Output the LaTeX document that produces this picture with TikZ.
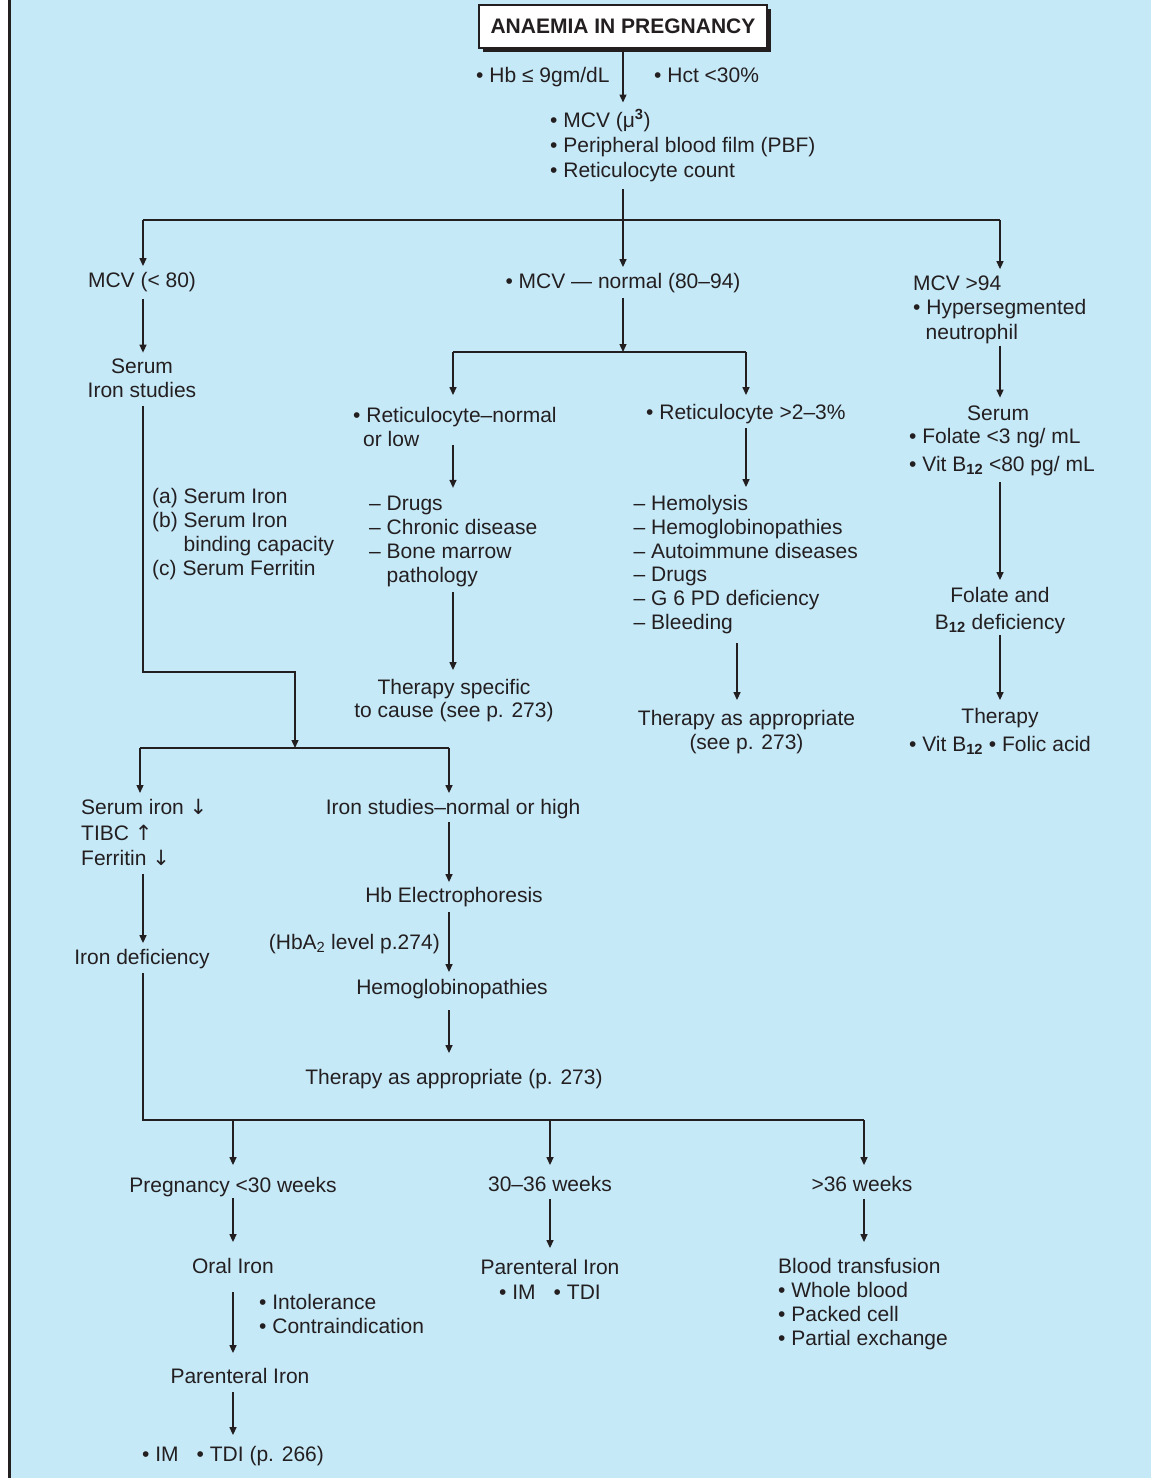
\documentclass[tikz,border=0pt]{standalone}
\usepackage{fontspec}
\setmainfont{Liberation Sans}
\newfontfamily\symf{DejaVu Sans}
\usetikzlibrary{arrows.meta,shadows}
\definecolor{bgblue}{RGB}{198,233,248}
\definecolor{ink}{RGB}{35,31,32}
\begin{document}
\begin{tikzpicture}[x=1pt,y=-1pt,
  every node/.style={font=\fontsize{21}{24}\selectfont, text=ink, inner sep=0pt},
  conn/.style={draw=ink, line width=1.3pt},
  arr/.style={conn, -{Triangle[length=8pt,width=7pt]}, shorten >=#1},
  arr/.default=6pt,
  titlebox/.style={draw=ink, line width=1.5pt, fill=white,
    font=\bfseries\fontsize{21}{24}\selectfont,
    minimum width=288pt, minimum height=43pt,
    general shadow={fill=ink, shadow xshift=4pt, shadow yshift=-4pt}},
  lst/.style={anchor=base west, align=left},
  ctr/.style={anchor=base, align=center}
]
\useasboundingbox (0,0) rectangle (1151,1478);
\fill[white] (0,0) rectangle (1151,1478);
\fill[bgblue] (11,0) rectangle (1151,1478);
\draw[ink, line width=3pt] (9.5,0) -- (9.5,1478);

% multi-line nodes are placed by the baseline of their LAST line
% ---------- top ----------
\node[titlebox] (title) at (623,26.5) {ANAEMIA IN PREGNANCY};
\node[anchor=base west] (hb) at (476,82.5) {• Hb ≤ 9gm/dL};
\node[anchor=base west] (hct) at (654,82.5) {• Hct <30\%};
\node[lst, font=\fontsize{21}{25}\selectfont] (inv) at (550,177.5)
  {• MCV (μ\textsuperscript{\textbf{3}})\\• Peripheral blood film (PBF)\\• Reticulocyte count};

\coordinate (sp1) at (623,220);
\coordinate (sp1l) at (143,220);
\coordinate (sp1r) at (1000,220);

\node[ctr] (mcvlow) at (142,287.5) {MCV (< 80)};
\node[ctr] (mcvnorm) at (623,288.5) {• MCV — normal (80–94)};
\node[lst, font=\fontsize{21}{24.5}\selectfont] (mcvhigh) at (913,339)
  {MCV >94\\• Hypersegmented\\\hspace{12.5pt}neutrophil};

% ---------- left branch ----------
\node[ctr] (seriron) at (142,397.5) {Serum\\Iron studies};
\node[lst] (ironlist) at (152,575)
  {(a) Serum Iron\\(b) Serum Iron\\\phantom{(b) }binding capacity\\(c) Serum Ferritin};
\coordinate (lc1) at (143,672);
\coordinate (lc2) at (295,672);
\coordinate (sp3) at (295,748);
\coordinate (sp3l) at (140,748);
\coordinate (sp3r) at (449,748);

\node[lst, font=\fontsize{21}{25.5}\selectfont] (serlow) at (81,865.5)
  {Serum iron {\symf ↓}\\TIBC {\symf ↑}\\Ferritin {\symf ↓}};
\node[ctr] (irondef) at (142,964.5) {Iron deficiency};

\node[ctr] (ironnorm) at (453,814.5) {Iron studies–normal or high};
\node[ctr] (hbel) at (454,902.5) {Hb Electrophoresis};
\node[anchor=base east] (hba) at (440,949.5) {(HbA\textsubscript{2} level p.274)};
\node[ctr] (hbpath) at (452,994.5) {Hemoglobinopathies};
\node[ctr] (ther3) at (454,1084.5) {Therapy as appropriate (p. 273)};

% ---------- middle branch ----------
\coordinate (sp2) at (623,352);
\coordinate (sp2l) at (453,352);
\coordinate (sp2r) at (746,352);
\node[lst] (retnorm) at (353,446.5) {• Reticulocyte–normal\\\hspace{10pt}or low};
\node[lst] (causes1) at (369,582.5)
  {– Drugs\\– Chronic disease\\– Bone marrow\\\phantom{– }pathology};
\node[ctr, font=\fontsize{21}{23}\selectfont] (ther1) at (454,717.5)
  {Therapy specific\\to cause (see p. 273)};

\node[anchor=base west] (rethigh) at (646,419.5) {• Reticulocyte >2–3\%};
\node[lst, font=\fontsize{21}{23.8}\selectfont] (causes2) at (633.5,629.5)
  {– Hemolysis\\– Hemoglobinopathies\\– Autoimmune diseases\\– Drugs\\– G 6 PD deficiency\\– Bleeding};
\node[ctr] (ther2) at (746.5,749.5) {Therapy as appropriate\\(see p. 273)};

% ---------- right branch ----------
\node[lst] (serum2) at (909,471.5)
  {\hspace{58pt}Serum\\[-1pt]• Folate <3 ng/ mL\\[4pt]• Vit B\textsubscript{\textbf{12}} <80 pg/ mL};
\node[ctr] (folb) at (1000,629.5) {Folate and\\[3pt]B\textsubscript{\textbf{12}} deficiency};
\node[ctr] (ther4) at (1000,751.5) {Therapy\\[4pt]• Vit B\textsubscript{\textbf{12}} • Folic acid};

% ---------- bottom ----------
\coordinate (sp4l) at (143,1120);
\coordinate (sp4a) at (233,1120);
\coordinate (sp4b) at (550,1120);
\coordinate (sp4r) at (864,1120);
\node[ctr] (preg) at (233,1192.5) {Pregnancy <30 weeks};
\node[ctr] (w3036) at (550,1191.5) {30–36 weeks};
\node[ctr] (w36) at (862,1191.5) {>36 weeks};
\node[ctr] (oral) at (233,1273.5) {Oral Iron};
\node[ctr, font=\fontsize{21}{25}\selectfont] (par1) at (550,1299.5) {Parenteral Iron\\• IM\hspace{18pt}• TDI};
\node[lst] (blood) at (778,1345.5)
  {Blood transfusion\\• Whole blood\\• Packed cell\\• Partial exchange};
\node[lst] (intol) at (259,1333.5) {• Intolerance\\• Contraindication};
\node[ctr] (par2) at (240,1383.5) {Parenteral Iron};
\node[anchor=base west] (imtdi) at (142,1461.5) {• IM\hspace{18pt}• TDI (p. 266)};

% ---------- connectors ----------
\draw[arr=7pt] (title.south) -- (title.south |- inv.north);
\draw[conn, shorten <=7pt] (title.south |- inv.south) -- (sp1);
\draw[conn] (sp1l) -- (sp1r);
\draw[arr] (sp1l) -- (sp1l |- mcvlow.north);
\draw[arr] (sp1) -- (sp1 |- mcvnorm.north);
\draw[arr] (sp1r) -- (sp1r |- mcvhigh.north);

\draw[arr, shorten <=7pt] (sp1l |- mcvlow.south) -- (sp1l |- seriron.north);
\draw[arr=0pt, shorten <=8pt] (sp1l |- seriron.south) -- (lc1) -- (lc2) -- (sp3);
\draw[conn] (sp3l) -- (sp3r);
\draw[arr] (sp3l) -- (sp3l |- serlow.north);
\draw[arr] (sp3r) -- (sp3r |- ironnorm.north);
\draw[arr=6pt, shorten <=8pt] (sp1l |- serlow.south) -- (sp1l |- irondef.north);
\draw[conn, shorten <=4pt] (sp1l |- irondef.south) -- (sp4l) -- (sp4r);

\draw[arr=5pt, shorten <=3pt] (sp3r |- ironnorm.south) -- (sp3r |- hbel.north);
\draw[arr=7pt, shorten <=5pt] (sp3r |- hbel.south) -- (sp3r |- hbpath.north);
\draw[arr=16pt, shorten <=11pt] (sp3r |- hbpath.south) -- (sp3r |- ther3.north);

\draw[arr=0pt, shorten <=5pt] (mcvnorm.south) -- (sp2);
\draw[conn] (sp2l) -- (sp2r);
\draw[arr=12pt] (sp2l) -- (sp2l |- retnorm.north);
\draw[arr=9pt] (sp2r) -- (sp2r |- rethigh.north);
\draw[arr=8pt, shorten <=-2pt] (sp2l |- retnorm.south) -- (sp2l |- causes1.north);
\draw[arr=9pt, shorten <=5pt] (sp2l |- causes1.south) -- (sp2l |- ther1.north);
\draw[arr=8pt, shorten <=4pt] (sp2r |- rethigh.south) -- (sp2r |- causes2.north);
\draw[arr=10pt, shorten <=9pt] ([xshift=-9pt]sp2r |- causes2.south) -- ([xshift=-9pt]sp2r |- ther2.north);

\draw[arr=8pt, shorten <=2pt] (sp1r |- mcvhigh.south) -- (sp1r |- serum2.north);
\draw[arr=7pt, shorten <=6pt] (sp1r |- serum2.south) -- (sp1r |- folb.north);
\draw[arr=8pt, shorten <=1pt] (sp1r |- folb.south) -- (sp1r |- ther4.north);

\draw[arr=12pt] (sp4a) -- (sp4a |- preg.north);
\draw[arr=11pt] (sp4b) -- (sp4b |- w3036.north);
\draw[arr=11pt] (sp4r) -- (sp4r |- w36.north);
\draw[arr=16pt, shorten <=1pt] (sp4a |- preg.south) -- (sp4a |- oral.north);
\draw[arr=11pt, shorten <=7pt] (sp4b |- w3036.south) -- (sp4b |- par1.north);
\draw[arr=16pt, shorten <=7pt] (sp4r |- w36.south) -- (sp4r |- blood.north);
\draw[arr=15pt, shorten <=18pt] (sp4a |- oral.south) -- (sp4a |- par2.north);
\draw[arr=11pt, shorten <=8pt] (sp4a |- par2.south) -- (sp4a |- imtdi.north);
\end{tikzpicture}
\end{document}
